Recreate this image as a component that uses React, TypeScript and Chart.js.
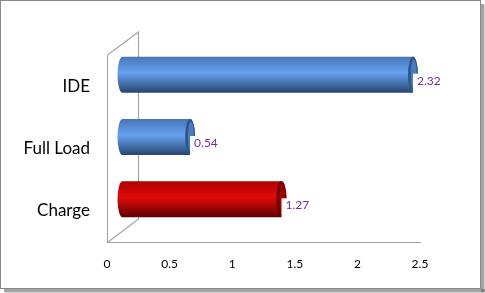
import React, { useEffect, useRef } from "react";
import { Chart, registerables } from "chart.js";

Chart.register(...registerables);

const categories = ["IDE", "Full Load", "Charge"];
const values = [2.32, 0.54, 1.27];
const barColors = ["blue", "blue", "red"];
const xTicks = [0, 0.5, 1, 1.5, 2, 2.5];

const FONT = "Lato, 'Liberation Sans', sans-serif";
const DEPTH_X = 31;
const DEPTH_Y = -23;

const palettes: Record<string, { top: string; mid: string; bot: string; cap: string; capIn: string }> = {
  blue: { top: "#4676b8", mid: "#66a2f0", bot: "#27456f", cap: "#2f568c", capIn: "#4a7cc0" },
  red: { top: "#b00000", mid: "#e00a0a", bot: "#5c0000", cap: "#6a0000", capIn: "#a00000" },
};

const plugin3d = {
  id: "cyl3d",
  beforeDraw(chart: any) {
    const { ctx, width, height } = chart;
    ctx.save();
    ctx.fillStyle = "#ffffff";
    ctx.fillRect(0, 0, width, height);
    // shadow
    ctx.fillStyle = "rgba(90,90,90,0.55)";
    ctx.fillRect(4, height - 4, width - 4, 3);
    ctx.fillRect(width - 4, 4, 3, height - 5);
    ctx.fillStyle = "rgba(150,150,150,0.4)";
    ctx.fillRect(5, height - 1, width - 5, 1);
    ctx.fillRect(width - 1, 5, 1, height - 5);
    ctx.strokeStyle = "#8a8a8a";
    ctx.lineWidth = 1;
    ctx.strokeRect(0.5, 0.5, width - 5, height - 5);
    // walls
    const a = chart.chartArea;
    ctx.strokeStyle = "#a6a6a6";
    ctx.lineWidth = 1.2;
    ctx.beginPath();
    ctx.moveTo(a.left + 0.5, a.top);
    ctx.lineTo(a.left + 0.5, a.bottom + 0.5);
    ctx.lineTo(a.right + 1, a.bottom + 0.5);
    ctx.moveTo(a.left + 0.5, a.top);
    ctx.lineTo(a.left + 0.5 + DEPTH_X, a.top + DEPTH_Y);
    ctx.lineTo(a.left + 0.5 + DEPTH_X, a.bottom + DEPTH_Y);
    ctx.lineTo(a.left + 0.5, a.bottom + 0.5);
    ctx.stroke();
    ctx.restore();
  },
  afterDatasetsDraw(chart: any) {
    const { ctx } = chart;
    const meta = chart.getDatasetMeta(0);
    const dx = DEPTH_X / 2;
    const dy = DEPTH_Y / 2;
    meta.data.forEach((el: any, i: number) => {
      const p = palettes[barColors[i]];
      const h = el.height;
      const cy = el.y + dy;
      const top = cy - h / 2;
      const bot = cy + h / 2;
      const sx = el.base + dx;
      const ex = el.x + dx;
      const rx = 5;
      const g = ctx.createLinearGradient(0, top, 0, bot);
      g.addColorStop(0, p.top);
      g.addColorStop(0.45, p.mid);
      g.addColorStop(1, p.bot);
      ctx.save();
      ctx.fillStyle = g;
      ctx.beginPath();
      ctx.moveTo(ex, top);
      ctx.lineTo(sx, top);
      ctx.ellipse(sx, cy, rx, h / 2, 0, -Math.PI / 2, Math.PI / 2, true);
      ctx.lineTo(ex, bot);
      ctx.ellipse(ex, cy, rx, h / 2, 0, Math.PI / 2, -Math.PI / 2, true);
      ctx.closePath();
      ctx.fill();
      // end face
      ctx.fillStyle = p.cap;
      ctx.beginPath();
      ctx.ellipse(ex, cy, rx, h / 2, 0, 0, Math.PI * 2);
      ctx.fill();
      ctx.fillStyle = p.capIn;
      ctx.beginPath();
      ctx.ellipse(ex + 0.8, cy, rx - 2, h / 2 - 3, 0, 0, Math.PI * 2);
      ctx.fill();
      // label
      const label = values[i].toFixed(2);
      ctx.font = "12px " + FONT;
      const tw = ctx.measureText(label).width;
      ctx.fillStyle = "#ffffff";
      ctx.fillRect(ex, cy - 1, tw + 8, 20);
      ctx.fillStyle = "#7030a0";
      ctx.textAlign = "left";
      ctx.textBaseline = "middle";
      ctx.fillText(label, ex + 4, cy + 6);
      ctx.restore();
    });
  },
};

export default function App() {
  const ref = useRef<HTMLCanvasElement>(null);
  useEffect(() => {
    document.body.style.margin = "0";
    const chart = new Chart(ref.current!, {
      type: "bar",
      data: {
        labels: categories,
        datasets: [
          {
            data: values,
            backgroundColor: "rgba(0,0,0,0)",
            borderWidth: 0,
            barThickness: 36,
          },
        ],
      },
      plugins: [plugin3d],
      options: {
        indexAxis: "y",
        animation: false,
        responsive: false,
        devicePixelRatio: 1,
        layout: { padding: { left: 0, right: 65, top: 55, bottom: 0 } },
        plugins: { legend: { display: false }, tooltip: { enabled: false } },
        scales: {
          x: {
            min: 0,
            max: 2.5,
            afterBuildTicks: (s: any) => {
              s.ticks = xTicks.map((v) => ({ value: v }));
            },
            grid: { display: false, drawTicks: false },
            border: { display: false },
            ticks: {
              padding: 15,
              color: "#000",
              font: { family: FONT, size: 12 },
              maxRotation: 0,
              callback: (v: any) => String(v),
            },
            afterFit: (s: any) => {
              s.height = 51;
            },
          },
          y: {
            grid: { display: false, drawTicks: false },
            border: { display: false },
            ticks: {
              padding: 17,
              color: "#000",
              font: { family: FONT, size: 17 },
            },
            afterFit: (s: any) => {
              s.width = 107;
            },
          },
        },
      },
    });
    return () => chart.destroy();
  }, []);
  return <canvas ref={ref} width={485} height={293} style={{ display: "block" }} />;
}
